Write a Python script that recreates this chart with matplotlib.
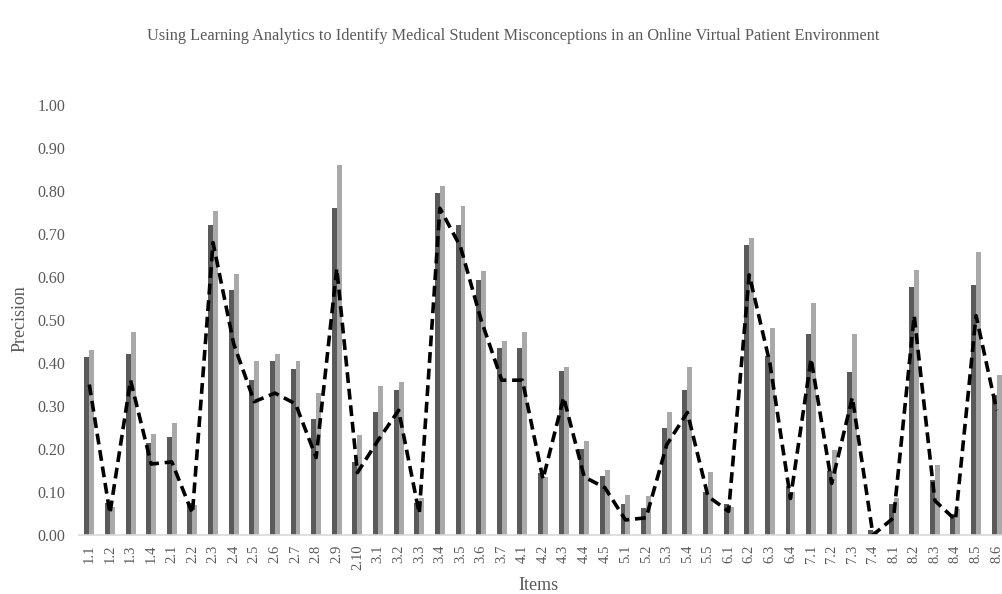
import numpy as np
import matplotlib
matplotlib.use('Agg')
import matplotlib.pyplot as plt

items = ['1.1', '1.2', '1.3', '1.4', '2.1', '2.2', '2.3', '2.4', '2.5', '2.6',
         '2.7', '2.8', '2.9', '2.10', '3.1', '3.2', '3.3', '3.4', '3.5', '3.6',
         '3.7', '4.1', '4.2', '4.3', '4.4', '4.5', '5.1', '5.2', '5.3', '5.4',
         '5.5', '6.1', '6.2', '6.3', '6.4', '7.1', '7.2', '7.3', '7.4', '8.1',
         '8.2', '8.3', '8.4', '8.5', '8.6']

dark_vals = [0.413, 0.075, 0.42, 0.215, 0.229, 0.075, 0.72, 0.57, 0.36, 0.405,
             0.385, 0.27, 0.76, 0.17, 0.287, 0.337, 0.075, 0.795, 0.72, 0.593,
             0.436, 0.436, 0.145, 0.382, 0.199, 0.137, 0.071, 0.062, 0.25, 0.337,
             0.10, 0.073, 0.675, 0.416, 0.115, 0.467, 0.15, 0.38, 0.012, 0.073,
             0.576, 0.128, 0.05, 0.581, 0.326]

light_vals = [0.43, 0.065, 0.473, 0.234, 0.261, 0.07, 0.754, 0.606, 0.405, 0.42,
              0.405, 0.33, 0.86, 0.233, 0.347, 0.355, 0.085, 0.812, 0.765, 0.613,
              0.452, 0.473, 0.135, 0.391, 0.219, 0.151, 0.094, 0.091, 0.287, 0.391,
              0.147, 0.065, 0.691, 0.482, 0.10, 0.539, 0.198, 0.467, 0.01, 0.087,
              0.616, 0.163, 0.06, 0.657, 0.373]

line_vals = [0.35, 0.05, 0.36, 0.165, 0.17, 0.05, 0.68, 0.445, 0.31, 0.33,
             0.305, 0.18, 0.62, 0.145, 0.22, 0.29, 0.05, 0.76, 0.67, 0.50,
             0.36, 0.36, 0.13, 0.32, 0.135, 0.11, 0.035, 0.04, 0.21, 0.285,
             0.09, 0.055, 0.605, 0.40, 0.085, 0.41, 0.12, 0.32, 0.0, 0.04,
             0.51, 0.08, 0.035, 0.51, 0.29]

TEXT = '#595959'
plt.rcParams['font.family'] = ['Liberation Serif', 'DejaVu Serif']

fig = plt.figure(figsize=(10.02, 5.94), dpi=100)
ax = fig.add_axes([79 / 1002, 59 / 594, 928 / 1002, 430 / 594])

x = np.arange(len(items))
w = 0.24
ax.bar(x - w / 2, dark_vals, width=w, color='#5a5a5a')
ax.bar(x + w / 2, light_vals, width=w, color='#a9a9a9')
ax.plot(x, line_vals, color='black', linestyle=(0, (3, 1.6)), linewidth=2.6)

ax.set_xlim(-0.5, len(items) - 0.5)
ax.set_ylim(0, 1.0)
ax.set_yticks(np.arange(0, 1.01, 0.1))
ax.set_yticklabels([f'{v:.2f}' for v in np.arange(0, 1.01, 0.1)])
ax.set_xticks(x)
ax.set_xticklabels(items, rotation=90)
ax.tick_params(axis='y', length=0, pad=10, labelsize=11.5, labelcolor=TEXT)
ax.tick_params(axis='x', length=0, pad=7, labelsize=10.5, labelcolor=TEXT)

for s in ['top', 'right', 'left']:
    ax.spines[s].set_visible(False)
ax.spines['bottom'].set_color('#d9d9d9')
ax.spines['bottom'].set_linewidth(1.2)

ax.set_ylabel('Precision', fontsize=13, color=TEXT)
ax.yaxis.set_label_coords(-0.0545, 0.503)
ax.set_xlabel('Items', fontsize=13, color=TEXT)
ax.xaxis.set_label_coords(0.495, -0.097)

fig.text(0.512, 0.94, 'Using Learning Analytics to Identify Medical Student Misconceptions '
         'in an Online Virtual Patient Environment', ha='center', va='center',
         fontsize=11.7, color=TEXT)

fig.savefig('out.png', dpi=100)
